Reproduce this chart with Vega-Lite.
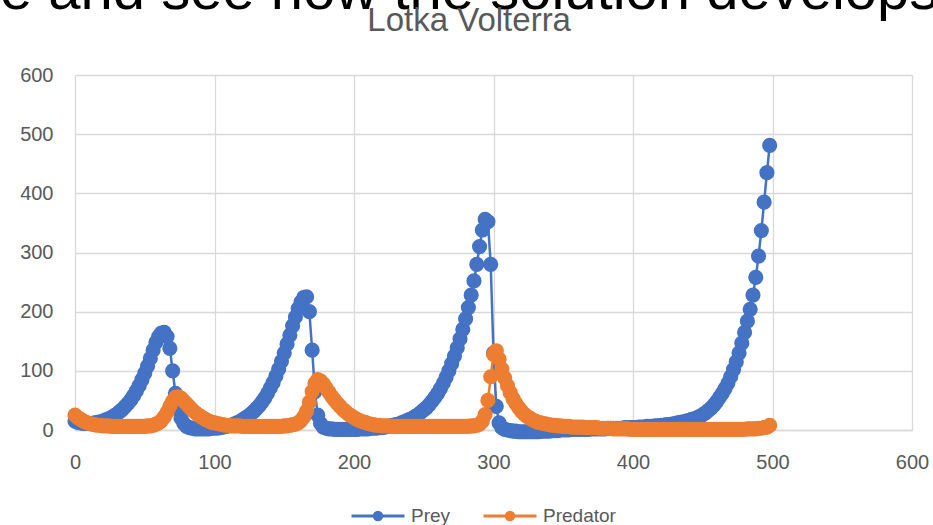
{
  "$schema": "https://vega.github.io/schema/vega-lite/v6.json",
  "width": 837,
  "height": 355,
  "autosize": {"type": "none"},
  "padding": {"left": 75, "top": 75, "right": 21, "bottom": 95},
  "background": "white",
  "config": {"view": {"stroke": null}},
  "title": {
    "text": "e and see how the solution develops",
    "subtitle": "Lotka Volterra",
    "anchor": "middle",
    "frame": "bounds",
    "dx": -5,
    "font": "Liberation Sans",
    "fontSize": 58,
    "fontWeight": "normal",
    "color": "#000000",
    "subtitleFont": "Liberation Sans",
    "subtitleFontSize": 33,
    "subtitleColor": "#595959",
    "subtitlePadding": -16,
    "offset": 27
  },
  "data": {"values": [
    {"t":0,"prey":15,"predator":25},{"t":2,"prey":13,"predator":21},{"t":4,"prey":12,"predator":18},{"t":6,"prey":11,"predator":15},{"t":8,"prey":11,"predator":13},
    {"t":10,"prey":11,"predator":11},{"t":12,"prey":11,"predator":10},{"t":14,"prey":12,"predator":9},{"t":16,"prey":13,"predator":8},{"t":18,"prey":14,"predator":8},
    {"t":20,"prey":15,"predator":7},{"t":22,"prey":17,"predator":7},{"t":24,"prey":19,"predator":7},{"t":26,"prey":21,"predator":6},{"t":28,"prey":24,"predator":6},
    {"t":30,"prey":27,"predator":6},{"t":32,"prey":31,"predator":6},{"t":34,"prey":35,"predator":6},{"t":36,"prey":40,"predator":6},{"t":38,"prey":45,"predator":6},
    {"t":40,"prey":51,"predator":6},{"t":42,"prey":58,"predator":6},{"t":44,"prey":66,"predator":6},{"t":46,"prey":75,"predator":6},{"t":48,"prey":85,"predator":6},
    {"t":50,"prey":96,"predator":6},{"t":52,"prey":108,"predator":7},{"t":54,"prey":121,"predator":7},{"t":56,"prey":135,"predator":8},{"t":58,"prey":148,"predator":10},
    {"t":60,"prey":158,"predator":12},{"t":62,"prey":164,"predator":16},{"t":64,"prey":165,"predator":22},{"t":66,"prey":158,"predator":30},{"t":68,"prey":138,"predator":40},
    {"t":70,"prey":100,"predator":49},{"t":72,"prey":62,"predator":55},{"t":74,"prey":36,"predator":56},{"t":76,"prey":20,"predator":54},{"t":78,"prey":11,"predator":49},
    {"t":80,"prey":6,"predator":44},{"t":82,"prey":4,"predator":39},{"t":84,"prey":3,"predator":34},{"t":86,"prey":2,"predator":30},{"t":88,"prey":2,"predator":26},
    {"t":90,"prey":2,"predator":23},{"t":92,"prey":2,"predator":20},{"t":94,"prey":2,"predator":17},{"t":96,"prey":2,"predator":15},{"t":98,"prey":3,"predator":13},
    {"t":100,"prey":3,"predator":12},{"t":102,"prey":3,"predator":11},{"t":104,"prey":4,"predator":10},{"t":106,"prey":5,"predator":9},{"t":108,"prey":6,"predator":8},
    {"t":110,"prey":7,"predator":8},{"t":112,"prey":8,"predator":7},{"t":114,"prey":10,"predator":7},{"t":116,"prey":12,"predator":7},{"t":118,"prey":14,"predator":7},
    {"t":120,"prey":17,"predator":6},{"t":122,"prey":20,"predator":6},{"t":124,"prey":23,"predator":6},{"t":126,"prey":27,"predator":6},{"t":128,"prey":31,"predator":6},
    {"t":130,"prey":36,"predator":6},{"t":132,"prey":41,"predator":6},{"t":134,"prey":47,"predator":6},{"t":136,"prey":54,"predator":6},{"t":138,"prey":62,"predator":6},
    {"t":140,"prey":71,"predator":6},{"t":142,"prey":80,"predator":6},{"t":144,"prey":91,"predator":6},{"t":146,"prey":103,"predator":6},{"t":148,"prey":116,"predator":6},
    {"t":150,"prey":130,"predator":7},{"t":152,"prey":145,"predator":7},{"t":154,"prey":160,"predator":8},{"t":156,"prey":176,"predator":9},{"t":158,"prey":191,"predator":10},
    {"t":160,"prey":205,"predator":12},{"t":162,"prey":216,"predator":16},{"t":164,"prey":224,"predator":22},{"t":166,"prey":225,"predator":32},{"t":168,"prey":200,"predator":47},
    {"t":170,"prey":135,"predator":65},{"t":172,"prey":65,"predator":79},{"t":174,"prey":25,"predator":85},{"t":176,"prey":11,"predator":83},{"t":178,"prey":5,"predator":78},
    {"t":180,"prey":3,"predator":71},{"t":182,"prey":2,"predator":64},{"t":184,"prey":2,"predator":57},{"t":186,"prey":1,"predator":51},{"t":188,"prey":1,"predator":45},
    {"t":190,"prey":1,"predator":40},{"t":192,"prey":1,"predator":35},{"t":194,"prey":1,"predator":31},{"t":196,"prey":1,"predator":27},{"t":198,"prey":1,"predator":24},
    {"t":200,"prey":1,"predator":21},{"t":202,"prey":1,"predator":18},{"t":204,"prey":2,"predator":16},{"t":206,"prey":2,"predator":14},{"t":208,"prey":2,"predator":13},
    {"t":210,"prey":2,"predator":11},{"t":212,"prey":3,"predator":10},{"t":214,"prey":3,"predator":9},{"t":216,"prey":3,"predator":8},{"t":218,"prey":4,"predator":8},
    {"t":220,"prey":4,"predator":7},{"t":222,"prey":5,"predator":7},{"t":224,"prey":6,"predator":7},{"t":226,"prey":7,"predator":6},{"t":228,"prey":8,"predator":6},
    {"t":230,"prey":9,"predator":6},{"t":232,"prey":10,"predator":6},{"t":234,"prey":12,"predator":6},{"t":236,"prey":14,"predator":6},{"t":238,"prey":16,"predator":6},
    {"t":240,"prey":18,"predator":6},{"t":242,"prey":20,"predator":6},{"t":244,"prey":23,"predator":6},{"t":246,"prey":26,"predator":6},{"t":248,"prey":30,"predator":6},
    {"t":250,"prey":34,"predator":6},{"t":252,"prey":38,"predator":6},{"t":254,"prey":43,"predator":6},{"t":256,"prey":49,"predator":6},{"t":258,"prey":55,"predator":6},
    {"t":260,"prey":62,"predator":6},{"t":262,"prey":70,"predator":6},{"t":264,"prey":79,"predator":6},{"t":266,"prey":89,"predator":6},{"t":268,"prey":100,"predator":6},
    {"t":270,"prey":112,"predator":6},{"t":272,"prey":125,"predator":6},{"t":274,"prey":139,"predator":6},{"t":276,"prey":154,"predator":6},{"t":278,"prey":170,"predator":6},
    {"t":280,"prey":188,"predator":6},{"t":282,"prey":207,"predator":6},{"t":284,"prey":228,"predator":7},{"t":286,"prey":252,"predator":7},{"t":288,"prey":280,"predator":8},
    {"t":290,"prey":310,"predator":10},{"t":292,"prey":338,"predator":15},{"t":294,"prey":356,"predator":26},{"t":296,"prey":352,"predator":50},{"t":298,"prey":280,"predator":90},
    {"t":300,"prey":130,"predator":128},{"t":302,"prey":40,"predator":134},{"t":304,"prey":12,"predator":120},{"t":306,"prey":4,"predator":103},{"t":308,"prey":1,"predator":88},
    {"t":310,"prey":0,"predator":75},{"t":312,"prey":-1,"predator":63},{"t":314,"prey":-2,"predator":53},{"t":316,"prey":-2,"predator":45},{"t":318,"prey":-3,"predator":38},
    {"t":320,"prey":-3,"predator":32},{"t":322,"prey":-3,"predator":27},{"t":324,"prey":-3,"predator":23},{"t":326,"prey":-3,"predator":20},{"t":328,"prey":-3,"predator":17},
    {"t":330,"prey":-3,"predator":15},{"t":332,"prey":-3,"predator":13},{"t":334,"prey":-2,"predator":12},{"t":336,"prey":-2,"predator":11},{"t":338,"prey":-2,"predator":10},
    {"t":340,"prey":-2,"predator":9},{"t":342,"prey":-1,"predator":8},{"t":344,"prey":-1,"predator":8},{"t":346,"prey":-1,"predator":7},{"t":348,"prey":0,"predator":7},
    {"t":350,"prey":0,"predator":6},{"t":352,"prey":0,"predator":6},{"t":354,"prey":0,"predator":6},{"t":356,"prey":1,"predator":5},{"t":358,"prey":1,"predator":5},
    {"t":360,"prey":1,"predator":5},{"t":362,"prey":1,"predator":5},{"t":364,"prey":1,"predator":5},{"t":366,"prey":1,"predator":4},{"t":368,"prey":1,"predator":4},
    {"t":370,"prey":2,"predator":4},{"t":372,"prey":2,"predator":4},{"t":374,"prey":2,"predator":4},{"t":376,"prey":2,"predator":3},{"t":378,"prey":2,"predator":3},
    {"t":380,"prey":2,"predator":3},{"t":382,"prey":3,"predator":3},{"t":384,"prey":3,"predator":3},{"t":386,"prey":3,"predator":2},{"t":388,"prey":3,"predator":2},
    {"t":390,"prey":3,"predator":2},{"t":392,"prey":3,"predator":2},{"t":394,"prey":4,"predator":2},{"t":396,"prey":4,"predator":2},{"t":398,"prey":4,"predator":1},
    {"t":400,"prey":4,"predator":1},{"t":402,"prey":4,"predator":1},{"t":404,"prey":5,"predator":1},{"t":406,"prey":5,"predator":1},{"t":408,"prey":5,"predator":1},
    {"t":410,"prey":6,"predator":1},{"t":412,"prey":6,"predator":1},{"t":414,"prey":6,"predator":1},{"t":416,"prey":7,"predator":1},{"t":418,"prey":7,"predator":1},
    {"t":420,"prey":8,"predator":1},{"t":422,"prey":8,"predator":1},{"t":424,"prey":9,"predator":1},{"t":426,"prey":9,"predator":1},{"t":428,"prey":10,"predator":1},
    {"t":430,"prey":11,"predator":1},{"t":432,"prey":12,"predator":1},{"t":434,"prey":13,"predator":1},{"t":436,"prey":14,"predator":1},{"t":438,"prey":15,"predator":1},
    {"t":440,"prey":16,"predator":1},{"t":442,"prey":18,"predator":1},{"t":444,"prey":19,"predator":1},{"t":446,"prey":21,"predator":1},{"t":448,"prey":23,"predator":1},
    {"t":450,"prey":26,"predator":1},{"t":452,"prey":29,"predator":1},{"t":454,"prey":33,"predator":1},{"t":456,"prey":37,"predator":1},{"t":458,"prey":42,"predator":1},
    {"t":460,"prey":48,"predator":1},{"t":462,"prey":55,"predator":1},{"t":464,"prey":62,"predator":1},{"t":466,"prey":70,"predator":1},{"t":468,"prey":79,"predator":1},
    {"t":470,"prey":90,"predator":1},{"t":472,"prey":102,"predator":1},{"t":474,"prey":115,"predator":1},{"t":476,"prey":130,"predator":1},{"t":478,"prey":147,"predator":1},
    {"t":480,"prey":165,"predator":1},{"t":482,"prey":184,"predator":2},{"t":484,"prey":204,"predator":2},{"t":486,"prey":228,"predator":2},{"t":488,"prey":258,"predator":2},
    {"t":490,"prey":294,"predator":3},{"t":492,"prey":337,"predator":3},{"t":494,"prey":385,"predator":4},{"t":496,"prey":435,"predator":5},{"t":498,"prey":481,"predator":8}
  ]},
  "encoding": {
    "x": {
      "field": "t",
      "type": "quantitative",
      "scale": {"domain": [0, 600], "nice": false},
      "axis": {
        "title": null,
        "values": [0, 100, 200, 300, 400, 500, 600],
        "grid": true,
        "gridColor": "#D9D9D9",
        "gridWidth": 1.3,
        "ticks": false,
        "domain": true,
        "domainColor": "#D9D9D9",
        "domainWidth": 1.3,
        "labelFlush": false,
        "labelFont": "Liberation Sans",
        "labelFontSize": 20,
        "labelColor": "#595959",
        "labelPadding": 22
      }
    }
  },
  "layer": [
    {
      "mark": {"type": "line", "strokeWidth": 2.5},
      "encoding": {
        "y": {
          "field": "prey",
          "type": "quantitative",
          "scale": {"domain": [0, 600], "nice": false},
          "axis": {
            "title": null,
            "values": [0, 100, 200, 300, 400, 500, 600],
            "grid": true,
            "gridColor": "#D9D9D9",
            "gridWidth": 1.3,
            "ticks": false,
            "domain": false,
            "labelFlush": false,
            "labelFont": "Liberation Sans",
            "labelFontSize": 20,
            "labelColor": "#595959",
            "labelPadding": 22
          }
        },
        "color": {
          "datum": "Prey",
          "type": "nominal",
          "scale": {"domain": ["Prey", "Predator"], "range": ["#4472C4", "#ED7D31"]},
          "legend": {
            "title": null,
            "orient": "none",
            "legendX": 275,
            "legendY": 413,
            "direction": "horizontal",
            "symbolType": "M-1,0L1,0M0.14,0A0.14,0.14,0,1,1,-0.14,0A0.14,0.14,0,1,1,0.14,0Z",
            "symbolSize": 2809,
            "symbolStrokeWidth": 3,
            "labelFont": "Liberation Sans",
            "labelFontSize": 19,
            "labelColor": "#595959",
            "labelOffset": 5,
            "columnPadding": 26,
            "padding": 0,
            "encode": {"symbols": {"update": {"fill": {"scale": "color", "field": "value"}, "stroke": {"scale": "color", "field": "value"}, "opacity": {"value": 1}}}}
          }
        }
      }
    },
    {
      "mark": {"type": "point", "filled": true, "size": 230, "opacity": 1},
      "encoding": {
        "y": {"field": "prey", "type": "quantitative"},
        "color": {"datum": "Prey", "type": "nominal"}
      }
    },
    {
      "mark": {"type": "line", "strokeWidth": 2.5},
      "encoding": {
        "y": {"field": "predator", "type": "quantitative"},
        "color": {"datum": "Predator", "type": "nominal"}
      }
    },
    {
      "mark": {"type": "point", "filled": true, "size": 230, "opacity": 1},
      "encoding": {
        "y": {"field": "predator", "type": "quantitative"},
        "color": {"datum": "Predator", "type": "nominal"}
      }
    }
  ]
}
